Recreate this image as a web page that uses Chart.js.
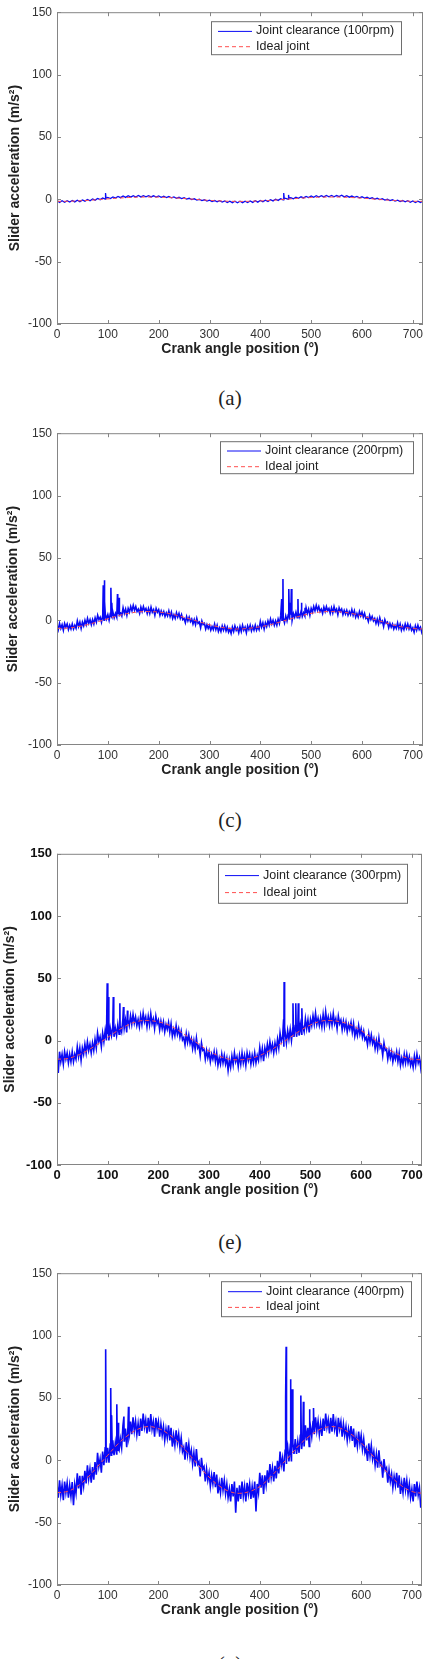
<!DOCTYPE html>
<html><head><meta charset="utf-8">
<script src="https://cdn.jsdelivr.net/npm/chart.js@4.4.1/dist/chart.umd.min.js"></script>
<style>
html,body{margin:0;padding:0;background:#fff;width:431px;height:1659px;overflow:hidden;position:relative}
.panel{position:absolute;left:0;width:431px;height:361px}
.cap{position:absolute;left:190px;width:80px;text-align:center;font-family:"Liberation Serif","DejaVu Serif",serif;font-size:21px;line-height:24px;color:#222}
</style></head><body>
<div class="panel" style="top:0px"><canvas id="c0" width="431" height="361"></canvas></div>
<div class="cap" style="top:386px">(a)</div>
<div class="panel" style="top:421px"><canvas id="c1" width="431" height="361"></canvas></div>
<div class="cap" style="top:808px">(c)</div>
<div class="panel" style="top:841px"><canvas id="c2" width="431" height="361"></canvas></div>
<div class="cap" style="top:1230px">(e)</div>
<div class="panel" style="top:1261px"><canvas id="c3" width="431" height="361"></canvas></div>
<div class="cap" style="top:1652px">(g)</div>
<script>
// ---------- data ----------
const xTicks = [0,100,200,300,400,500,600,700];
const yTicks = [-100,-50,0,50,100,150];
const seriesLabels = ['Joint clearance (100rpm)','Joint clearance (200rpm)','Joint clearance (300rpm)','Joint clearance (400rpm)'];
const idealLabel = 'Ideal joint';

const angles5 = [0,5,10,15,20,25,30,35,40,45,50,55,60,65,70,75,80,85,90,95,
 100,105,110,115,120,125,130,135,140,145,150,155,160,165,170,175,180,185,190,195,
 200,205,210,215,220,225,230,235,240,245,250,255,260,265,270,275,280,285,290,295,
 300,305,310,315,320,325,330,335,340,345,350,355,360,365,370,375,380,385,390,395,
 400,405,410,415,420,425,430,435,440,445,450,455,460,465,470,475,480,485,490,495,
 500,505,510,515,520,525,530,535,540,545,550,555,560,565,570,575,580,585,590,595,
 600,605,610,615,620,625,630,635,640,645,650,655,660,665,670,675,680,685,690,695,
 700,705,710,715,720];
const angles2p5 = [
 0,2.5,5,7.5,10,12.5,15,17.5,20,22.5,25,27.5,
 30,32.5,35,37.5,40,42.5,45,47.5,50,52.5,55,57.5,
 60,62.5,65,67.5,70,72.5,75,77.5,80,82.5,85,87.5,
 90,92.5,95,97.5,100,102.5,105,107.5,110,112.5,115,117.5,
 120,122.5,125,127.5,130,132.5,135,137.5,140,142.5,145,147.5,
 150,152.5,155,157.5,160,162.5,165,167.5,170,172.5,175,177.5,
 180,182.5,185,187.5,190,192.5,195,197.5,200,202.5,205,207.5,
 210,212.5,215,217.5,220,222.5,225,227.5,230,232.5,235,237.5,
 240,242.5,245,247.5,250,252.5,255,257.5,260,262.5,265,267.5,
 270,272.5,275,277.5,280,282.5,285,287.5,290,292.5,295,297.5,
 300,302.5,305,307.5,310,312.5,315,317.5,320,322.5,325,327.5,
 330,332.5,335,337.5,340,342.5,345,347.5,350,352.5,355,357.5,
 360,362.5,365,367.5,370,372.5,375,377.5,380,382.5,385,387.5,
 390,392.5,395,397.5,400,402.5,405,407.5,410,412.5,415,417.5,
 420,422.5,425,427.5,430,432.5,435,437.5,440,442.5,445,447.5,
 450,452.5,455,457.5,460,462.5,465,467.5,470,472.5,475,477.5,
 480,482.5,485,487.5,490,492.5,495,497.5,500,502.5,505,507.5,
 510,512.5,515,517.5,520,522.5,525,527.5,530,532.5,535,537.5,
 540,542.5,545,547.5,550,552.5,555,557.5,560,562.5,565,567.5,
 570,572.5,575,577.5,580,582.5,585,587.5,590,592.5,595,597.5,
 600,602.5,605,607.5,610,612.5,615,617.5,620,622.5,625,627.5,
 630,632.5,635,637.5,640,642.5,645,647.5,650,652.5,655,657.5,
 660,662.5,665,667.5,670,672.5,675,677.5,680,682.5,685,687.5,
 690,692.5,695,697.5,700,702.5,705,707.5,710,712.5,715,717.5,
 720];
const angles20 = [0,20,40,60,80,100,120,140,160,180,200,220,240,260,280,300,320,340,360,
 380,400,420,440,460,480,500,520,540,560,580,600,620,640,660,680,700,720];

const joint100 = [
 -1,-2.5,-1.2,-2.4,-1.1,-2.2,-1,-2.1,-0.8,-1.9,
 -0.5,-1.5,-0.2,-1.2,0.3,-0.7,0.7,-0.3,1,0.2,
 1.5,0.6,1.9,1,2.3,1.3,2.6,1.5,2.8,1.7,
 2.9,1.8,3,1.9,2.9,2,2.9,1.9,2.8,1.8,
 2.7,1.6,2.5,1.4,2.2,1.1,1.9,0.8,1.6,0.5,
 1.2,0.1,0.8,-0.3,0.4,-0.7,0,-1.1,-0.4,-1.5,
 -0.7,-1.8,-1,-2.1,-1.2,-2.3,-1.4,-2.6,-1.5,-2.7,
 -1.6,-2.8,-1.6,-2.7,-1.5,-2.6,-1.4,-2.5,-1.2,-2.3,
 -1,-2,-0.7,-1.7,-0.4,-1.3,0,-0.9,0.4,-0.5,
 0.8,0,1.2,0.4,1.6,0.8,2,1.1,2.3,1.4,
 2.6,1.6,2.8,1.8,2.9,1.9,3,2,3.1,2,
 3,2.2,3.3,1.9,2.9,1.7,2.6,1.5,2.3,1.2,
 2,0.9,1.6,0.5,1.2,0.1,0.8,-0.3,0.4,-0.7,
 0,-1.1,-0.4,-1.5,-0.7,-1.8,-1,-2.1,-1.2,-2.4,
 -1.4,-2.6,-1.5,-2.5,-1.3];
const joint200 = [
 -3.5,-7.5,-2.5,-6.5,-3.5,-8,-2.5,-5.5,-3,-7.5,-4,-7,
 -3,-7,-4,-6.5,-0.5,-5,-1.5,-6.5,-1.5,-4.5,0,-3.5,
 1.5,-2.5,0.5,-3.5,0.5,-3,2,-1.5,4,0.5,2.5,-1.5,
 4,0,5,1,4.5,0,5.5,2.5,6.5,2,5.5,2.5,
 7,3,6,3.5,10,5.5,9,4,9.5,6.5,11,7.5,
 12,8,11,7,9,5.5,10.5,7,11,7.5,9.5,5.5,
 9.5,5.5,10.5,6.5,8.5,4,9.5,6.5,8.5,4,7.5,4.5,
 7,3,6,3.5,7.5,3,6.5,1.5,4.5,1.5,6,2.5,
 5.5,1.5,4.5,0.5,1.5,-2,3,-0.5,2.5,-1,1,-3,
 0.5,-3.5,1.5,-2.5,-1.5,-6,-0.5,-3.5,-2.5,-7,-3.5,-6.5,
 -4,-8,-5,-7.5,-3,-7.5,-4,-9,-6,-9,-4.5,-8,
 -4.5,-8.5,-5.5,-9.5,-7,-10.5,-5.5,-9,-4.5,-8,-6,-10,
 -5,-9,-4,-8,-5.5,-10,-4.5,-7.5,-4,-8.5,-5,-8,
 -4,-8,-5,-7.5,-1,-5.5,-2,-7,-2,-5,-0.5,-4,
 1,-3,0,-4,-0.5,-4,1,-2.5,3.5,0,2,-2,
 3.5,-0.5,4.5,0.5,4.5,0,5.5,2.5,6.5,2,5.5,2.5,
 7,3,6,3.5,10,5.5,9,4,9.5,6.5,11,7.5,
 12,8,11,7,9,5.5,10.5,7,11,7.5,9.5,5.5,
 10,6,11,7,9,4.5,10,7,9,4.5,8,5,
 8,4,7,4.5,8.5,4,7.5,2.5,5.5,2.5,7,3.5,
 6.5,2.5,5.5,1.5,2.5,-1,4,0.5,3,-0.5,1.5,-2.5,
 1,-3,2,-2,-0.5,-5,0.5,-2.5,-1.5,-6,-2.5,-5.5,
 -3,-7,-4,-6.5,-2,-6.5,-3,-8,-4.5,-7.5,-3,-6.5,
 -3,-7,-4,-8,-6,-9.5,-4.5,-8,-4,-7.5,-5.5,-9.5,
 -6];
const joint300 = [
 -11,-26,-9,-17,-11,-19,-9,-15,-10,-18,-11,-17,
 -9,-17,-11,-15,-5,-13,-6,-16,-6,-11,-3,-10,
 -1,-8,-3,-10,-2,-8,1,-6,6,-1,3,-5,
 6,-1,8,0,8,0,10,4,11,3,10,4,
 13,5,11,7,17.5,9.5,16.5,6.5,17,12,20,13,
 21,14,19,12,17,11,20,13,22,15,19,11,
 19.5,12.5,21.5,13.5,17.5,9.5,19.5,13.5,16.5,8.5,15.5,9.5,
 15,7,13,9,14.5,6.5,13.5,3.5,9,4,12,5,
 9.5,2.5,7.5,0.5,2.5,-3.5,5.5,-1.5,4.5,-2.5,1.5,-6.5,
 0,-7,2,-6,-4,-12,-2,-8,-7,-15,-8,-14,
 -9,-17,-11,-15,-9,-17,-10,-20,-14,-19,-11,-18,
 -12,-19,-14,-24,-15.5,-21.5,-12.5,-19.5,-10,-17,-13,-21,
 -12,-19,-10,-18,-12,-20,-10,-16,-11,-19,-12,-18,
 -10,-18,-12,-16,-5.5,-13.5,-6.5,-16.5,-6,-11,-3,-10,
 -1,-8,-3,-10,-2,-8,1,-6,6,-1,3,-5,
 7,-2,8,1,9,0,10,3,12,3,11,4,
 13,5,11,7,17.5,9.5,16.5,6.5,17,12,20,13,
 22,13,18,12,18,11,21,12,23,14,19,12,
 19.5,12.5,21.5,13.5,17.5,9.5,19.5,13.5,16.5,8.5,15.5,9.5,
 15,7,13,9,14.5,6.5,13.5,3.5,9,4,12,5,
 9.5,2.5,7.5,0.5,2.5,-3.5,5.5,-1.5,4.5,-2.5,1.5,-6.5,
 0,-7,2,-6,-4,-12,-2,-8,-7,-15,-8,-14,
 -9,-17,-11,-15,-9,-17,-10,-20,-14,-19,-11,-18,
 -11,-18,-13,-20,-15.5,-21.5,-12.5,-19.5,-11,-18,-14,-22,
 -13];
const joint400 = [
 -19,-30,-16,-28,-20,-32,-17,-26,-18,-30,-20,-29,
 -17.5,-36,-19.5,-26.5,-10.5,-22.5,-12.5,-27.5,-12.5,-20.5,-8.5,-18.5,
 -4,-15,-7,-18,-5.5,-15.5,-1.5,-11.5,6,-5,1,-10,
 7,-4,10,-2,10,-2,13,4,16,4,14,5,
 19,8,17,10,27.5,15.5,25.5,10.5,27,19,31,21,
 34.5,23.5,31.5,20.5,29.5,19.5,33.5,23.5,37.5,26.5,32.5,21.5,
 34,23,37,25,31,19,34,25,31,19,29,20,
 27,16,25,18,28,16,26,11,20,12,24,14,
 21,10,18,7,10.5,0.5,14.5,4.5,13,2,8,-3,
 6,-5,9,-3,-1,-13,2,-7,-5,-17,-7,-16,
 -10,-21,-12,-19,-9.5,-21.5,-11.5,-26.5,-18,-26,-14,-24,
 -16,-27,-19,-30,-23,-33,-19,-29,-17,-42,-22,-33,
 -20,-31,-17,-29,-21,-33,-18,-27,-19,-31,-21,-30,
 -17,-41,-19,-26,-10,-22,-12,-27,-12,-20,-8,-18,
 -3,-14,-6,-17,-4.5,-14.5,-0.5,-10.5,7,-4,2,-9,
 8,-3,11,-1,11,-1,14,5,17,5,15,6,
 20,9,18,11,28,16,26,11,27,19,31,21,
 34.5,23.5,31.5,20.5,29.5,19.5,33.5,23.5,37.5,26.5,32.5,21.5,
 34,23,37,25,31,19,34,25,31,19,29,20,
 27,16,25,18,27.5,15.5,25.5,10.5,19,11,23,13,
 20,9,17,6,9.5,-0.5,13.5,3.5,12,1,7,-4,
 5,-6,8,-4,-2,-14,1,-8,-6,-18,-8,-17,
 -11,-22,-13,-20,-10,-22,-12,-27,-18,-26,-14,-24,
 -16,-27,-19,-30,-23,-33,-19,-29,-17,-28,-22,-38,
 -30];

const spikeAngles100 = [95.5,96.5,446,447,455.5,456.5];
const spikeValues100 = [5,0.8,5,0.9,3.5,1.0];
const spikeAngles200 = [91,92,93,94,106,107,108,109,119,119.5,122,123,442,443,444.5,446,456,457,459,461,462,474,474.5,481,481.5,488,489];
const spikeValues200 = [28,1,32,15,26,3,14,4,21,5,18,6,17,0,33,2,25,4,14,25,5,17,6,14,6,10,6];
const spikeAngles300 = [99,100.5,101,102,111,112,124,124.5,131,132,139,139.5,447,448,449,465.5,466.5,471,472,476,477,483,484];
const spikeValues300 = [46,5,35,4,35,8,30,10,27,12,24,14,17,47,3,30,6,30,8,30,9,26,12];
const spikeAngles400 = [96,97,106,107,108,109,118,119,120.5,121.5,132,133,141,142,451,452,453,460.5,461.5,464,465.5,481,482,486,487,498,499,506,507];
const spikeValues400 = [89,2,58,4,36,6,45,8,30,9,35,16,43,18,50,91,5,65,10,57,14,52,17,47,16,41,20,42,23];

const ideal100 = [-1.7,-1.6,-1.3,-0.9,-0.3,0.3,0.9,1.4,1.7,1.8,1.7,1.4,0.9,0.3,-0.3,-0.9,-1.3,-1.6,-1.7,
 -1.6,-1.3,-0.9,-0.3,0.3,0.9,1.4,1.7,1.8,1.7,1.4,0.9,0.3,-0.3,-0.9,-1.3,-1.6,-1.7];
const ideal200 = [-6.5,-6.3,-5.2,-3.5,-1.2,1.2,3.6,5.5,6.7,7.0,6.6,5.4,3.5,1.2,-1.2,-3.6,-5.4,-6.6,-7.0,
 -6.3,-5.2,-3.5,-1.2,1.2,3.6,5.5,6.7,7.0,6.6,5.4,3.5,1.2,-1.2,-3.6,-5.4,-6.6,-7.0];
const ideal300 = [-15,-14.5,-12,-8,-3,2.5,8,12.5,15.5,16,15,12.5,8,2.5,-3,-8.5,-12.5,-15,-15.5,
 -14.5,-12,-8,-3,2.5,8,12.5,15.5,16,15,12.5,8,2.5,-3,-8.5,-12.5,-15,-15.5];
const ideal400 = [-26,-25,-21,-14,-5,4,13,20,25,27,25.5,21,14,5,-4.5,-13.5,-20.5,-25,-26.5,
 -25,-21,-14,-5,4,13,20,25,27,25.5,21,14,5,-4.5,-13.5,-20.5,-25,-26.5];

// ---------- rendering ----------
const FONT = '"Liberation Sans", Arial, sans-serif';

function noisySeries(ang, vals, sA, sV){
  return ang.map((a,i)=>({x:a,y:vals[i]}))
    .concat(sA.map((a,i)=>({x:a,y:sV[i]})))
    .sort((p,q)=>p.x-q.x);
}

const framePlugin = {
  id:'frameLegend',
  afterDatasetsDraw(chart, args, o){
    const {ctx, chartArea:a, scales:{x,y}} = chart;
    ctx.save();
    ctx.strokeStyle = '#858585'; ctx.lineWidth = 1;
    ctx.strokeRect(a.left+0.5, a.top+0.5, a.right-a.left-1, a.bottom-a.top-1);
    const L = 4;
    ctx.beginPath();
    x.ticks.forEach(t=>{const px=Math.round(x.getPixelForValue(t.value))+0.5;
      ctx.moveTo(px,a.bottom); ctx.lineTo(px,a.bottom-L); ctx.moveTo(px,a.top); ctx.lineTo(px,a.top+L);});
    y.ticks.forEach(t=>{const py=Math.round(y.getPixelForValue(t.value))+0.5;
      ctx.moveTo(a.left,py); ctx.lineTo(a.left+L,py); ctx.moveTo(a.right,py); ctx.lineTo(a.right-L,py);});
    ctx.stroke();
    const lg = o.box;
    const bx = a.right - lg.right - lg.w, by = a.top + lg.top;
    ctx.fillStyle = '#fff';
    ctx.fillRect(bx, by, lg.w, lg.h);
    ctx.strokeStyle = '#6e6e6e';
    ctx.strokeRect(bx+0.5, by+0.5, lg.w, lg.h);
    ctx.font = '12.5px ' + FONT;
    ctx.textBaseline = 'middle';
    ctx.textAlign = 'left';
    chart.data.datasets.forEach((ds,i)=>{
      const ry = by + lg.rows[i];
      ctx.beginPath();
      ctx.strokeStyle = ds.borderColor;
      ctx.lineWidth = 1;
      ctx.setLineDash(ds.borderDash || []);
      ctx.moveTo(bx+7, ry+0.5); ctx.lineTo(bx+41, ry+0.5);
      ctx.stroke();
      ctx.setLineDash([]);
      ctx.fillStyle = '#222';
      ctx.fillText(ds.label, bx+45, ry);
    });
    ctx.restore();
  }
};

const panels = [
  {id:'c0', label:seriesLabels[0], ang:angles5, vals:joint100, sA:spikeAngles100, sV:spikeValues100, ideal:ideal100,
   tick:{size:12, weight:'normal'}, tickColor:'#333', yPad:7, rightPad:8, lw:1.3,
   box:{right:22, top:9, w:190, h:33, rows:[9.7,25]}},
  {id:'c1', label:seriesLabels[1], ang:angles2p5, vals:joint200, sA:spikeAngles200, sV:spikeValues200, ideal:ideal200,
   tick:{size:12, weight:'normal'}, tickColor:'#333', yPad:5, rightPad:8, lw:1.6,
   box:{right:10, top:8, w:193, h:32, rows:[9.3,25]}},
  {id:'c2', label:seriesLabels[2], ang:angles2p5, vals:joint300, sA:spikeAngles300, sV:spikeValues300, ideal:ideal300,
   tick:{size:13, weight:'bold'}, tickColor:'#111', yPad:2, rightPad:9, lw:1.6,
   box:{right:15, top:10, w:189, h:39, rows:[11.3,28.3]}},
  {id:'c3', label:seriesLabels[3], ang:angles2p5, vals:joint400, sA:spikeAngles400, sV:spikeValues400, ideal:ideal400,
   tick:{size:12, weight:'normal'}, tickColor:'#333', yPad:7, rightPad:9, lw:1.6,
   box:{right:11, top:8, w:190, h:35, rows:[10,25.7]}}
];

panels.forEach(p=>{
  new Chart(document.getElementById(p.id), {
    type:'line',
    data:{datasets:[
      {label:p.label, data:noisySeries(p.ang,p.vals,p.sA,p.sV), borderColor:'#0a0af5', borderWidth:p.lw,
       pointRadius:0, tension:0, order:2},
      {label:idealLabel, data:angles20.map((a,i)=>({x:a,y:p.ideal[i]})), borderColor:'#ff4f4f',
       borderWidth:1, borderDash:[4,3], pointRadius:0, tension:0.4, order:1}
    ]},
    options:{
      responsive:false, animation:false, events:[],
      layout:{padding:{top:12, left:0, right:p.rightPad, bottom:0}},
      plugins:{legend:{display:false}, tooltip:{enabled:false}, frameLegend:{box:p.box}},
      scales:{
        x:{type:'linear', min:0, max:720,
           afterBuildTicks:s=>{s.ticks = xTicks.map(v=>({value:v}));},
           afterFit:s=>{s.height = 37;},
           grid:{display:false, drawTicks:false}, border:{display:false},
           ticks:{font:{family:FONT, size:p.tick.size, weight:p.tick.weight}, color:p.tickColor, padding:3, maxRotation:0, autoSkip:false},
           title:{display:true, text:'Crank angle position (°)', color:'#222',
                  font:{family:FONT, size:14, weight:'bold'}, padding:{top:0, bottom:3}}},
        y:{type:'linear', min:-100, max:150,
           afterBuildTicks:s=>{s.ticks = yTicks.map(v=>({value:v}));},
           afterFit:s=>{s.width = 57;},
           grid:{display:false, drawTicks:false}, border:{display:false},
           ticks:{font:{family:FONT, size:p.tick.size, weight:p.tick.weight}, color:p.tickColor, padding:5, autoSkip:false},
           title:{display:true, text:'Slider acceleration (m/s²)', color:'#222',
                  font:{family:FONT, size:14, weight:'bold'}, padding:{top:p.yPad, bottom:0}}}
      }
    },
    plugins:[framePlugin]
  });
});
</script>
</body></html>
